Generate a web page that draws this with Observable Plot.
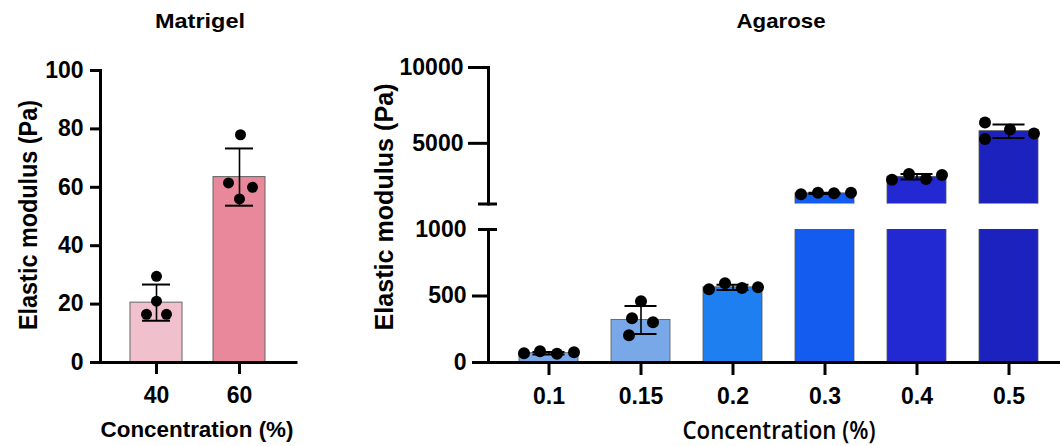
<!DOCTYPE html>
<html><head><meta charset="utf-8">
<script src="https://cdn.jsdelivr.net/npm/d3@7"></script>
<script src="https://cdn.jsdelivr.net/npm/@observablehq/plot@0.6"></script>
<style>
html,body{margin:0;padding:0;background:#fff;}
#wrap{position:relative;width:1060px;height:446px;overflow:hidden;}
.pane{position:absolute;}
</style></head><body><div id="wrap"></div>
<script>
// ---------- data ----------
const matrigelConc = ["40", "60"];
const matrigelMean = [20.5, 63.5];
const matrigelSD = [6.2, 9.8];
const matrigelPoints = [[29.5, 21, 16.5, 16.5], [78, 61.5, 60, 56]];
const matrigelTicks = [0, 20, 40, 60, 80, 100];

const agaroseConc = ["0.1", "0.15", "0.2", "0.3", "0.4", "0.5"];
const agaroseMean = [70, 320, 565, 1700, 2790, 5800];
const agaroseSD = [9, 105, 20, 40, 180, 450];
const agarosePoints = [
  [70, 85, 65, 77],
  [461, 333, 303, 205],
  [551, 596, 561, 566],
  [1650, 1735, 1710, 1735],
  [2606, 2978, 2651, 2913],
  [6372, 5915, 5654, 5282]
];
const agaroseLowTicks = [0, 500];
const agaroseHighTicks = [5000, 10000];
const axisBreak = 1000;
const agaroseMax = 10000;

// ---------- style / layout ----------
const matrigelColors = ["#f0c0cc", "#e8889a"];
const agaroseColors = ["#78a8e8", "#78a8e8", "#1e80f0", "#145cf0", "#2228d2", "#1c22be"];
const matrigelDotDx = [[0, 0, -10, 10], [1, -11, 13, 0]];
const agaroseDotDx = [[-25, -9, 8, 25], [0, -9, 12, -12], [-24, -8, 9, 25], [-24, -7, 9, 26], [-25, -8, 9, 25], [-24, 1, 25, -24]];
const FONT = "'Liberation Sans', Arial, Helvetica, sans-serif";
const TICKFONT = {fontSize: 23, fontWeight: "bold", fontFamily: FONT};
const plain = d => String(d);
const baseStyle = {fontFamily: FONT, fontSize: "23px", fontWeight: "bold", color: "#000", background: "none", maxWidth: "none", overflow: "visible"};

const mRows = matrigelConc.map((c, i) => ({conc: c, mean: matrigelMean[i], sd: matrigelSD[i]}));
const mPts = matrigelConc.flatMap((c, i) => matrigelPoints[i].map((v, j) => ({conc: c, value: v, dx: matrigelDotDx[i][j]})));
const aRows = agaroseConc.map((c, i) => ({conc: c, mean: agaroseMean[i], sd: agaroseSD[i]}));
const aPts = agaroseConc.flatMap((c, i) => agarosePoints[i].map((v, j) => ({conc: c, value: v, mean: agaroseMean[i], dx: agaroseDotDx[i][j]})));

function dotMarks(pts, r) {
  return [...d3.group(pts, d => d.dx)].map(([dx, arr]) =>
    Plot.dot(arr, {x: "conc", y: "value", r, fill: "#000", stroke: "none", dx}));
}
function errorMarks(rows, inset) {
  return [
    Plot.ruleX(rows, {x: "conc", y1: d => d.mean - d.sd, y2: d => d.mean + d.sd, stroke: "#000", strokeWidth: 1.6}),
    Plot.tickY(rows, {x: "conc", y: d => d.mean + d.sd, insetLeft: inset, insetRight: inset, stroke: "#000", strokeWidth: 2}),
    Plot.tickY(rows, {x: "conc", y: d => d.mean - d.sd, insetLeft: inset, insetRight: inset, stroke: "#000", strokeWidth: 2})
  ];
}
// horizontal cap drawn across the axis where it is broken
function breakCap() {
  return Plot.axisY({ticks: [axisBreak], tickSize: 19, dx: 9, tickFormat: () => "", strokeWidth: 3, label: null});
}

const wrap = document.getElementById("wrap");
function place(node, left, top) {
  const d = document.createElement("div");
  d.className = "pane";
  d.style.left = left + "px";
  d.style.top = top + "px";
  d.appendChild(node);
  wrap.appendChild(d);
}

// ---------- Matrigel ----------
const left = Plot.plot({
  width: 300, height: 446,
  marginLeft: 100, marginRight: 4, marginTop: 70, marginBottom: 84,
  style: baseStyle,
  x: {domain: matrigelConc, paddingInner: 0.373, paddingOuter: 0.367, label: null},
  y: {domain: [0, 100], label: null},
  color: {domain: matrigelConc, range: matrigelColors},
  marks: [
    Plot.barY(mRows, {x: "conc", y: "mean", fill: "conc", stroke: "#666", strokeWidth: 1}),
    ...errorMarks(mRows, 12),
    ...dotMarks(mPts, 5.5),
    Plot.axisY({ticks: matrigelTicks, tickFormat: plain, tickSize: 10, tickPadding: 7, strokeWidth: 3, label: null, ...TICKFONT}),
    Plot.axisX({tickSize: 12, tickPadding: 12, strokeWidth: 3, label: null, ...TICKFONT}),
    Plot.frame({anchor: "left", strokeWidth: 3, strokeLinecap: "square"}),
    Plot.ruleY([0], {strokeWidth: 3, strokeLinecap: "square"})
  ]
});
place(left, 0, 0);

// ---------- Agarose: upper segment ----------
const xRight = {domain: agaroseConc, paddingInner: 0.36, paddingOuter: 0.3306, label: null};
const colorRight = {domain: agaroseConc, range: agaroseColors};
const highRows = aRows.filter(d => d.mean > axisBreak);
const upper = Plot.plot({
  width: 689, height: 215,
  marginLeft: 108, marginRight: 0, marginTop: 67, marginBottom: 11.5,
  style: baseStyle,
  x: {...xRight, axis: null},
  y: {domain: [axisBreak, agaroseMax], label: null},
  color: colorRight,
  marks: [
    Plot.barY(highRows, {x: "conc", y: "mean", fill: "conc", stroke: "#555", strokeWidth: 0.8, clip: true}),
    ...errorMarks(highRows, 13.5),
    ...dotMarks(aPts.filter(d => d.mean > axisBreak), 6),
    Plot.axisY({ticks: agaroseHighTicks, tickFormat: plain, tickSize: 20, tickPadding: 5, strokeWidth: 3, label: null, ...TICKFONT}),
    breakCap(),
    Plot.frame({anchor: "left", strokeWidth: 3})
  ]
});
place(upper, 380, 0);

// ---------- Agarose: lower segment ----------
const lowRows = aRows.filter(d => d.mean <= axisBreak);
const lower = Plot.plot({
  width: 689, height: 231,
  marginLeft: 108, marginRight: 0, marginTop: 14, marginBottom: 84,
  style: baseStyle,
  x: xRight,
  y: {domain: [0, axisBreak], label: null},
  color: colorRight,
  marks: [
    Plot.barY(aRows, {x: "conc", y: "mean", fill: "conc", stroke: "#555", strokeWidth: 0.8, clip: true}),
    ...errorMarks(lowRows, 13.5),
    ...dotMarks(aPts.filter(d => d.mean <= axisBreak), 6),
    Plot.axisY({ticks: agaroseLowTicks, tickFormat: plain, tickSize: 16, tickPadding: 6, strokeWidth: 3, label: null, ...TICKFONT}),
    Plot.axisY({ticks: [axisBreak], tickFormat: plain, tickSize: 0, tickPadding: 22, label: null, ...TICKFONT}),
    breakCap(),
    Plot.axisX({tickSize: 13, tickPadding: 12, strokeWidth: 3, label: null, ...TICKFONT}),
    Plot.frame({anchor: "left", strokeWidth: 3, strokeLinecap: "square"}),
    Plot.ruleY([0], {strokeWidth: 3, strokeLinecap: "square"})
  ]
});
place(lower, 380, 215);

// ---------- titles and axis labels ----------
const labels = d3.create("svg")
  .attr("width", 1060).attr("height", 446)
  .style("position", "absolute").style("left", "0px").style("top", "0px")
  .style("pointer-events", "none");
const texts = [
  {t: "Matrigel", x: 200, y: 28, size: 21, len: 90, font: FONT, w: "bold"},
  {t: "Agarose", x: 781, y: 28, size: 21, len: 89, font: FONT, w: "bold"},
  {t: "Concentration (%)", x: 197, y: 437, size: 22, len: 193, font: FONT, w: "bold"},
  {t: "Concentration (%)", x: 779, y: 439, size: 25, len: 193, font: "'Open Sans', 'Noto Sans', sans-serif", w: "600"},
  {t: "Elastic modulus (Pa)", x: 36.5, y: 215, size: 25, len: 230, font: FONT, w: "bold", rot: true},
  {t: "Elastic modulus (Pa)", x: 393, y: 207, size: 26, len: 247, font: FONT, w: "bold", rot: true}
];
for (const d of texts) {
  labels.append("text")
    .attr("transform", `translate(${d.x},${d.y})` + (d.rot ? " rotate(-90)" : ""))
    .attr("text-anchor", "middle")
    .attr("font-family", d.font)
    .attr("font-weight", d.w)
    .attr("font-size", d.size)
    .attr("textLength", d.len)
    .attr("lengthAdjust", "spacingAndGlyphs")
    .attr("fill", "#000")
    .text(d.t);
}
wrap.appendChild(labels.node());
</script>
</body></html>
